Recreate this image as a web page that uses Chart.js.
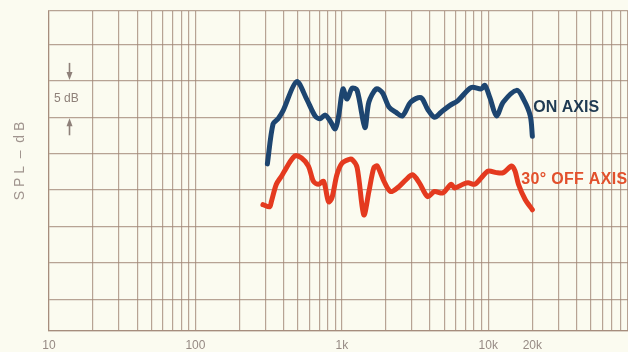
<!DOCTYPE html>
<html>
<head>
<meta charset="utf-8">
<script src="https://cdn.jsdelivr.net/npm/chart.js@4/dist/chart.umd.min.js"></script>
<style>
  html, body { margin: 0; padding: 0; background: #fbfbf0; overflow: hidden; }
  #wrap { width: 628px; height: 352px; position: relative; overflow: hidden; }
</style>
</head>
<body>
<div id="wrap"><canvas id="c" width="636" height="363"></canvas></div>
<script>
// Frequency (Hz) and level (dB) of the on-axis response
const onAxisFreq = [310, 339, 367, 397, 491, 575, 656, 710, 769, 832, 901, 951, 1018, 1084, 1175, 1271,
  1436, 1530, 1718, 1888, 2100, 2333, 2594, 2958, 3467, 3855, 4288, 4760, 5442, 6206, 7658, 8975,
  9477, 10256, 11383, 12672, 15635, 17383, 19358, 20000];
const onAxisDb = [18.6, 24.1, 24.8, 25.9, 29.9, 27.5, 25.2, 24.8, 25.3, 24.5, 23.4, 25.2, 28.9, 27.5, 29.0, 28.7,
  23.6, 27.1, 28.9, 28.4, 26.4, 25.7, 25.2, 27.1, 27.7, 26.1, 25.0, 25.7, 26.6, 27.3, 29.1, 28.9,
  29.4, 27.7, 25.2, 27.1, 28.7, 27.5, 25.2, 22.4];

// Frequency (Hz) and level (dB) 30 degrees off axis
const offAxisFreq = [289, 321, 330, 357, 387, 419, 478, 531, 591, 640, 692, 750, 811, 855, 925, 1002,
  1114, 1175, 1271, 1413, 1530, 1656, 1745, 1941, 2153, 2461, 2735, 3041, 3381, 3855, 4288, 4890,
  5580, 5888, 6714, 7277, 8091, 8975, 9980, 11383, 12672, 14454, 15244, 16069, 17864, 20000];
const offAxisDb = [13.0, 12.7, 13.4, 15.8, 16.9, 18.1, 19.7, 19.4, 18.3, 16.2, 15.8, 16.2, 13.4, 13.9, 17.1, 18.7,
  19.2, 19.2, 18.1, 11.6, 14.8, 18.1, 18.3, 16.2, 14.8, 15.5, 16.4, 17.1, 16.0, 14.1, 14.8, 14.6,
  15.8, 15.3, 15.8, 16.0, 15.8, 16.7, 17.6, 17.4, 17.4, 18.3, 17.6, 15.8, 13.7, 12.3];

// Axis extents and labelled frequencies
const freqMin = 10, freqMax = 97000;
const dbMin = -4.3, dbMax = 39.6, dbStep = 5;
const freqTickLabels = { 10: '10', 100: '100', 1000: '1k', 10000: '10k', 20000: '20k' };

// Log-paper grid: 1..9 of every decade
const freqGrid = [];
for (let dec = 10; dec < freqMax; dec *= 10) {
  for (let m = 1; m <= 9; m++) {
    const f = m * dec;
    if (f >= freqMin && f <= freqMax) freqGrid.push(f);
  }
}
const dbGrid = [dbMin];
for (let v = 0; v < dbMax; v += dbStep) dbGrid.push(v);
dbGrid.push(dbMax);

const toXY = (fs, ds) => fs.map((f, i) => ({ x: f, y: ds[i] }));

const gridColor = 'rgba(160,134,118,0.75)';
const inkColor = '#8e8079';

const annotations = {
  id: 'annotations',
  afterDatasetsDraw(chart) {
    const { ctx, scales: { x, y } } = chart;
    ctx.save();
    // curve labels
    ctx.textBaseline = 'middle';
    ctx.textAlign = 'left';
    ctx.font = 'bold 16px "Liberation Sans", Arial, sans-serif';
    ctx.fillStyle = '#1f3a52';
    ctx.fillText('ON AXIS', x.getPixelForValue(20000) + 1, y.getPixelForValue(26.3));
    ctx.fillStyle = '#e2502c';
    ctx.letterSpacing = '0.3px';
    ctx.fillText('30\u00B0 OFF AXIS', x.getPixelForValue(20000) - 11, y.getPixelForValue(16.4));
    ctx.letterSpacing = '0px';

    // 5 dB scale marker between two grid lines
    const ax = 69.5;
    const yTop = y.getPixelForValue(30), yBot = y.getPixelForValue(25);
    ctx.strokeStyle = inkColor;
    ctx.fillStyle = inkColor;
    ctx.lineWidth = 1.6;
    ctx.beginPath(); ctx.moveTo(ax, yTop - 18); ctx.lineTo(ax, yTop - 6); ctx.stroke();
    ctx.beginPath(); ctx.moveTo(ax - 3, yTop - 9); ctx.lineTo(ax + 3, yTop - 9); ctx.lineTo(ax, yTop - 1); ctx.closePath(); ctx.fill();
    ctx.beginPath(); ctx.moveTo(ax, yBot + 18); ctx.lineTo(ax, yBot + 6); ctx.stroke();
    ctx.beginPath(); ctx.moveTo(ax - 3, yBot + 9); ctx.lineTo(ax + 3, yBot + 9); ctx.lineTo(ax, yBot + 1); ctx.closePath(); ctx.fill();
    ctx.font = '12px "Liberation Sans", Arial, sans-serif';
    ctx.textAlign = 'left';
    ctx.fillText('5 dB', 54, (yTop + yBot) / 2);

    // vertical axis title
    ctx.translate(20, 161);
    ctx.rotate(-Math.PI / 2);
    ctx.textAlign = 'center';
    ctx.fillStyle = '#a0948e';
    ctx.font = '14px "Liberation Sans", Arial, sans-serif';
    ctx.fillText('S P L  \u2013  d B', 0, 0);
    ctx.restore();
  }
};

new Chart(document.getElementById('c'), {
  type: 'line',
  data: {
    datasets: [
      {
        label: 'On axis',
        data: toXY(onAxisFreq, onAxisDb),
        borderColor: '#1d4570',
        borderWidth: 5,
        pointRadius: 0,
        tension: 0.3,
        borderCapStyle: 'round',
        borderJoinStyle: 'round'
      },
      {
        label: '30° off axis',
        data: toXY(offAxisFreq, offAxisDb),
        borderColor: '#e43a1f',
        borderWidth: 5,
        pointRadius: 0,
        tension: 0.3,
        borderCapStyle: 'round',
        borderJoinStyle: 'round'
      }
    ]
  },
  options: {
    responsive: false,
    animation: false,
    layout: { padding: { left: 49, top: 11, right: 0, bottom: 2 } },
    plugins: { legend: { display: false }, tooltip: { enabled: false } },
    scales: {
      x: {
        type: 'logarithmic',
        min: freqMin,
        max: freqMax,
        afterBuildTicks(scale) { scale.ticks = freqGrid.map(v => ({ value: v })); },
        grid: { color: gridColor, lineWidth: 1.2, drawTicks: false },
        border: { display: true, color: gridColor, width: 1.2 },
        ticks: {
          autoSkip: false,
          maxRotation: 0,
          padding: 8,
          color: '#968a84',
          font: { family: '"Liberation Sans", Arial, sans-serif', size: 12 },
          callback(value) { return freqTickLabels[value] || ''; }
        }
      },
      y: {
        min: dbMin,
        max: dbMax,
        afterBuildTicks(scale) { scale.ticks = dbGrid.map(v => ({ value: v })); },
        grid: { color: gridColor, lineWidth: 1.2, drawTicks: false },
        border: { display: true, color: gridColor, width: 1.2 },
        ticks: { display: false }
      }
    }
  },
  plugins: [annotations]
});
</script>
</body>
</html>
